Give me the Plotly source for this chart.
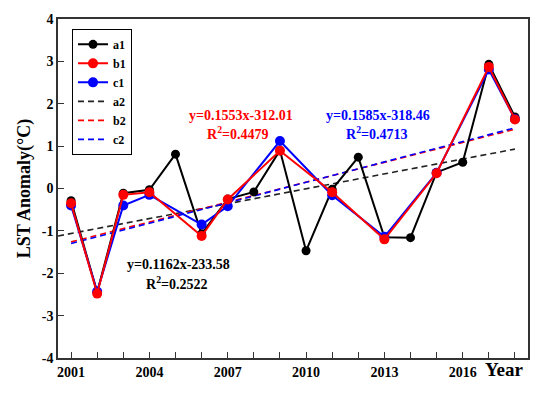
import plotly.graph_objects as go

years = [2001, 2002, 2003, 2004, 2005, 2006, 2007, 2008, 2009, 2010,
         2011, 2012, 2013, 2014, 2015, 2016, 2017, 2018]
a1 = [-0.29, -2.45, -0.11, -0.03, 0.81, -1.07, -0.25, -0.08, 0.90, -1.47,
      -0.02, 0.74, -1.15, -1.16, 0.38, 0.62, 2.93, 1.69]

years_bc = [2001, 2002, 2003, 2004, 2006, 2007, 2009, 2011, 2013, 2015, 2017, 2018]
b1 = [-0.35, -2.48, -0.15, -0.09, -1.12, -0.26, 0.89, -0.09, -1.20, 0.36, 2.87, 1.63]
c1 = [-0.40, -2.43, -0.40, -0.15, -0.85, -0.42, 1.12, -0.16, -1.14, 0.37, 2.81, 1.64]

a2_x = [2000.5, 2018]
a2_y = [-1.12, 0.93]
b2_x = [2001, 2018]
b2_y = [-1.26, 1.40]
c2_x = [2001, 2018]
c2_y = [-1.30, 1.43]

labelled = [2001, 2004, 2007, 2010, 2013, 2016]
y_ticks = [-4, -3, -2, -1, 0, 1, 2, 3, 4]

FONT = "Liberation Serif"
fig = go.Figure()

fig.add_trace(go.Scatter(x=a2_x, y=a2_y, mode="lines", name="a2", legendrank=4,
                         line=dict(color="#222222", width=1.6, dash="6px,4px")))
fig.add_trace(go.Scatter(x=b2_x, y=b2_y, mode="lines", name="b2", legendrank=5,
                         line=dict(color="red", width=1.6, dash="6px,4px")))
fig.add_trace(go.Scatter(x=c2_x, y=c2_y, mode="lines", name="c2", legendrank=6,
                         line=dict(color="blue", width=1.6, dash="6px,4px")))

fig.add_trace(go.Scatter(x=years, y=a1, mode="lines+markers", name="a1", legendrank=1,
                         line=dict(color="black", width=2),
                         marker=dict(color="black", size=9)))
fig.add_trace(go.Scatter(x=years_bc, y=c1, mode="lines+markers", name="c1", legendrank=3,
                         line=dict(color="blue", width=2),
                         marker=dict(color="blue", size=10)))
fig.add_trace(go.Scatter(x=years_bc, y=b1, mode="lines+markers", name="b1", legendrank=2,
                         line=dict(color="red", width=2),
                         marker=dict(color="red", size=10)))

annotations = [
    dict(x=241, y=112, text="<b>y=0.1553x-312.01</b>", color="red"),
    dict(x=238, y=130, text="<b>R<sup>2</sup>=0.4479</b>", color="red"),
    dict(x=378, y=112, text="<b>y=0.1585x-318.46</b>", color="blue"),
    dict(x=377, y=130, text="<b>R<sup>2</sup>=0.4713</b>", color="blue"),
    dict(x=178, y=263, text="<b>y=0.1162x-233.58</b>", color="black"),
    dict(x=177, y=282, text="<b>R<sup>2</sup>=0.2522</b>", color="black"),
]
L, R, T, B = 58, 22, 14, 35
W, H = 550, 393
pw, ph = W - L - R, H - T - B
for a in annotations:
    fig.add_annotation(x=(a["x"] - L) / pw, y=(H - B - a["y"]) / ph,
                       xref="paper", yref="paper", text=a["text"], showarrow=False,
                       font=dict(family=FONT, size=14, color=a["color"]),
                       xanchor="center", yanchor="middle")

fig.add_annotation(x=(504 - L) / pw, y=(H - B - 370) / ph, xref="paper", yref="paper",
                   text="<b>Year</b>", showarrow=False,
                   font=dict(family=FONT, size=19, color="black"),
                   xanchor="center", yanchor="middle")

fig.update_layout(
    width=W, height=H,
    margin=dict(l=L, r=R, t=T, b=B),
    paper_bgcolor="white", plot_bgcolor="white",
    font=dict(family=FONT, color="black"),
    legend=dict(x=(72 - L) / pw, y=(H - B - 24) / ph, xanchor="left", yanchor="top",
                bordercolor="black", borderwidth=1, bgcolor="white",
                font=dict(family=FONT, size=12), itemwidth=30, tracegroupgap=0),
    xaxis=dict(range=[2000.5, 2018.5], tickmode="array", tickvals=labelled,
               ticktext=[f"<b>{t}</b>" for t in labelled],
               ticks="inside", ticklen=6, tickwidth=1.3, tickcolor="#333",
               minor=dict(dtick=1, tick0=2001, ticks="inside", ticklen=6,
                          tickwidth=1.3, tickcolor="#333"),
               showline=True, linecolor="#333", linewidth=1.5, mirror=True,
               showgrid=False, zeroline=False,
               tickfont=dict(family=FONT, size=14, color="black")),
    yaxis=dict(range=[-4, 4], tickmode="array", tickvals=y_ticks,
               ticktext=[f"<b>{v}</b>" for v in y_ticks],
               ticks="inside", ticklen=6, tickwidth=1.3, tickcolor="#333",
               showline=True, linecolor="#333", linewidth=1.5, mirror=True,
               showgrid=False, zeroline=False,
               tickfont=dict(family=FONT, size=14, color="black"),
               title=dict(text="<b>LST Anomaly(°C)</b>", font=dict(family=FONT, size=18),
                          standoff=6)),
)

fig.for_each_trace(lambda t: t.update(name=f"<b>{t.name}</b>"))

fig.write_html("out.html", config={"displayModeBar": False},
               post_script="document.body.style.margin='0px';")
